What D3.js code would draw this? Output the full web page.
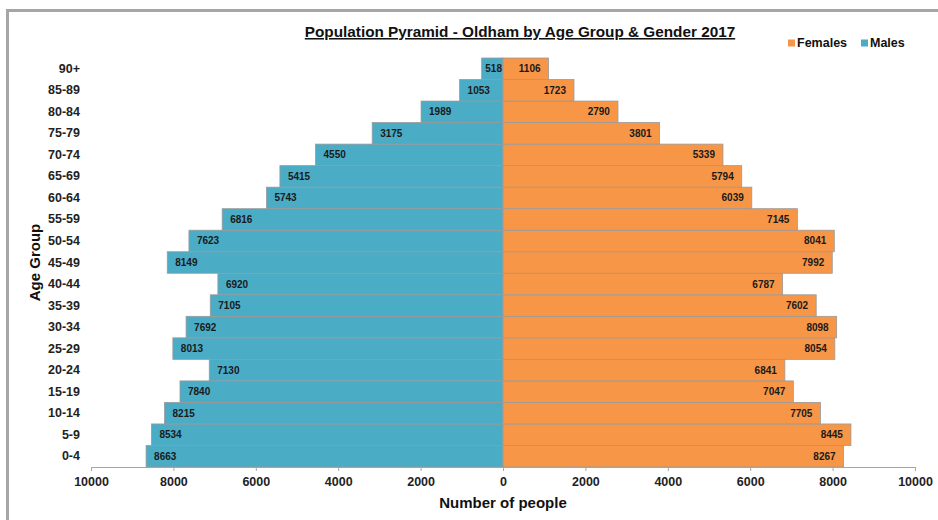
<!DOCTYPE html>
<html>
<head>
<meta charset="utf-8">
<script src="https://cdn.jsdelivr.net/npm/d3@7"></script>
<style>
  body { margin: 0; background: #fff; }
  svg { display: block; font-family: "Liberation Sans", Arial, sans-serif; }
</style>
</head>
<body>
<svg id="chart"></svg>
<script>
const ages = ["0-4","5-9","10-14","15-19","20-24","25-29","30-34","35-39","40-44","45-49",
              "50-54","55-59","60-64","65-69","70-74","75-79","80-84","85-89","90+"];
const males = [8663,8534,8215,7840,7130,8013,7692,7105,6920,8149,7623,6816,5743,5415,4550,3175,1989,1053,518];
const females = [8267,8445,7705,7047,6841,8054,8098,7602,6787,7992,8041,7145,6039,5794,5339,3801,2790,1723,1106];
const xTicks = [-10000,-8000,-6000,-4000,-2000,0,2000,4000,6000,8000,10000];

const width = 938, height = 520;
const maleColor = "#4bacc6", femaleColor = "#f79646";
const margin = {top: 58, right: 23, bottom: 53, left: 91};
const font = "Liberation Sans, Arial, sans-serif";

const svg = d3.select("#chart").attr("width", width).attr("height", height);

// outer frame
svg.append("rect")
  .attr("x", 7.5).attr("y", 10.5)
  .attr("width", width).attr("height", height)
  .attr("fill", "none").attr("stroke", "#a6a6a6").attr("stroke-width", 3);

const x = d3.scaleLinear().domain([-10000, 10000]).range([margin.left, width - margin.right]);
const y = d3.scaleBand().domain(ages.slice().reverse()).range([margin.top, height - margin.bottom]).padding(0);

const data = ages.map((a, i) => ({age: a, m: males[i], f: females[i]}));

// male bars
svg.append("g").selectAll("rect").data(data).enter().append("rect")
  .attr("x", d => x(-d.m)).attr("y", d => y(d.age))
  .attr("width", d => x(0) - x(-d.m)).attr("height", y.bandwidth())
  .attr("fill", maleColor).attr("stroke", "#9a9a9a").attr("stroke-width", 0.8);

// female bars
svg.append("g").selectAll("rect").data(data).enter().append("rect")
  .attr("x", x(0)).attr("y", d => y(d.age))
  .attr("width", d => x(d.f) - x(0)).attr("height", y.bandwidth())
  .attr("fill", femaleColor).attr("stroke", "#9a9a9a").attr("stroke-width", 0.8);

// value labels
svg.append("g").selectAll("text").data(data).enter().append("text")
  .attr("y", d => y(d.age) + y.bandwidth() / 2)
  .attr("dy", "0.35em").attr("font-size", 10).attr("font-weight", "bold").attr("fill", "#1a1a1a")
  .text(d => d.m)
  .attr("x", function(d) {
    const w = this.getComputedTextLength();
    return Math.min(x(-d.m) + 8, x(0) - 1 - w);
  });
svg.append("g").selectAll("text").data(data).enter().append("text")
  .attr("x", d => x(d.f) - 8).attr("y", d => y(d.age) + y.bandwidth() / 2)
  .attr("dy", "0.35em").attr("text-anchor", "end")
  .attr("font-size", 10).attr("font-weight", "bold").attr("fill", "#1a1a1a")
  .text(d => d.f);

// x axis
const xAxis = svg.append("g")
  .attr("transform", `translate(0,${height - margin.bottom})`)
  .call(d3.axisBottom(x).tickValues(xTicks).tickSize(4).tickPadding(6).tickFormat(d => Math.abs(d)));
xAxis.select(".domain").attr("stroke", "#a6a6a6");
xAxis.selectAll(".tick line").attr("stroke", "#a6a6a6");
xAxis.selectAll(".tick text").attr("font-size", 12.5).attr("font-weight", "bold").attr("fill", "#222")
  .attr("font-family", font);

// y labels
const yAxis = svg.append("g")
  .attr("transform", `translate(${margin.left - 11},0)`)
  .call(d3.axisLeft(y).tickSize(0).tickPadding(0));
yAxis.select(".domain").remove();
yAxis.selectAll(".tick text").attr("font-size", 12.5).attr("font-weight", "bold").attr("fill", "#222")
  .attr("font-family", font);

// axis titles
svg.append("text")
  .attr("x", x(0)).attr("y", 508).attr("text-anchor", "middle")
  .attr("font-size", 15).attr("font-weight", "bold").attr("fill", "#111")
  .text("Number of people");
svg.append("text")
  .attr("transform", `translate(40,${(margin.top + height - margin.bottom) / 2}) rotate(-90)`)
  .attr("text-anchor", "middle")
  .attr("font-size", 15).attr("font-weight", "bold").attr("fill", "#111")
  .text("Age Group");

// title
svg.append("text")
  .attr("x", 520).attr("y", 37).attr("text-anchor", "middle")
  .attr("font-size", 15.3).attr("font-weight", "bold").attr("fill", "#111")
  .attr("text-decoration", "underline")
  .text("Population Pyramid - Oldham by Age Group & Gender 2017");

// legend
const legend = [{name: "Females", color: femaleColor, x: 788}, {name: "Males", color: maleColor, x: 861}];
const lg = svg.append("g").selectAll("g").data(legend).enter().append("g")
  .attr("transform", d => `translate(${d.x},43)`);
lg.append("rect").attr("x", 0).attr("y", -3.5).attr("width", 7).attr("height", 7).attr("fill", d => d.color);
lg.append("text").attr("x", 9).attr("dy", "0.35em")
  .attr("font-size", 12.5).attr("font-weight", "bold").attr("fill", "#111")
  .text(d => d.name);
</script>
</body>
</html>
